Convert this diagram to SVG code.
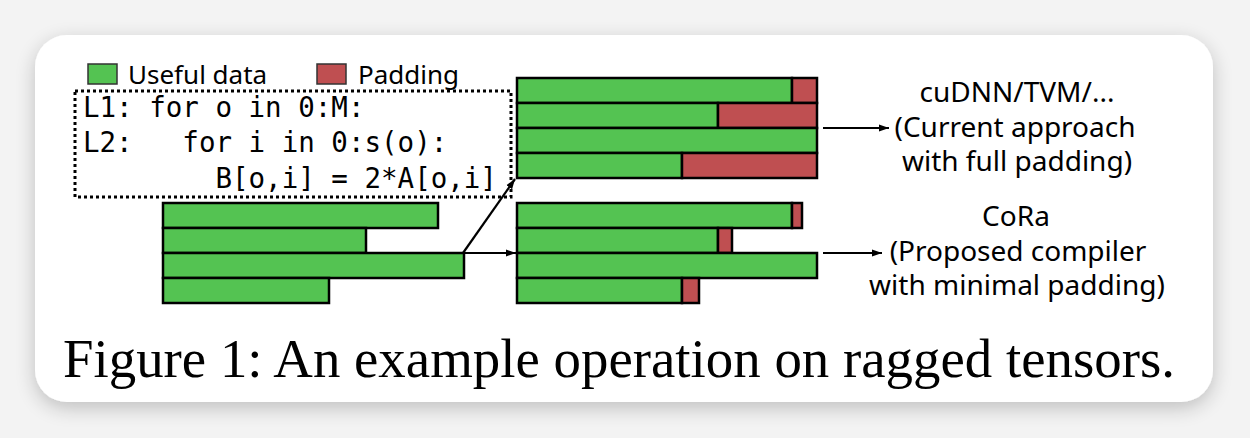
<svg xmlns="http://www.w3.org/2000/svg" width="1250" height="438" viewBox="0 0 1250 438">
<defs>
<filter id="shadow" x="-10%" y="-20%" width="120%" height="150%">
<feGaussianBlur in="SourceAlpha" stdDeviation="10"/>
<feOffset dx="0" dy="6" result="b"/>
<feComponentTransfer><feFuncA type="linear" slope="0.22"/></feComponentTransfer>
<feMerge><feMergeNode/><feMergeNode in="SourceGraphic"/></feMerge>
</filter>
<marker id="ah" viewBox="0 0 10 10" refX="10" refY="5" markerWidth="10" markerHeight="10" markerUnits="userSpaceOnUse" orient="auto">
<path d="M0,1.5 L10,5 L0,8.5 z" fill="#000"/>
</marker>
<style>
.g{fill:#54c352;stroke:#000;stroke-width:2.5}
.r{fill:#bf4f51;stroke:#000;stroke-width:2.5}
.lbl{font-family:"Noto Sans","Open Sans",sans-serif;font-size:26px;fill:#000}
.side{font-family:"Noto Sans","Open Sans",sans-serif;font-size:28px;fill:#000}
.code{font-family:"DejaVu Sans Mono",monospace;font-size:27.5px;fill:#000}
.cap{font-family:"Liberation Serif","Times New Roman",serif;font-size:55px;fill:#000}
.conn{stroke:#000;stroke-width:2.2;fill:none}
</style>
</defs>
<rect x="0" y="0" width="1250" height="438" fill="#f3f3f3"/>
<rect x="35" y="35" width="1178" height="367" rx="32" ry="32" fill="#ffffff" filter="url(#shadow)"/>

<g id="legend">
<rect x="88" y="64" width="29" height="20" fill="#54c352" stroke="#333" stroke-width="1.5"/>
<text class="lbl" x="128" y="84">Useful data</text>
<rect x="317" y="64" width="29" height="20" fill="#bf4f51" stroke="#333" stroke-width="1.5"/>
<text class="lbl" x="358" y="84">Padding</text>
</g>

<g id="code">
<rect x="75" y="91" width="436" height="106" fill="none" stroke="#000" stroke-width="3" stroke-dasharray="3 3"/>
<text class="code" x="83" y="117" xml:space="preserve">L1: for o in 0:M:</text>
<text class="code" x="83" y="152" xml:space="preserve">L2:   for i in 0:s(o):</text>
<text class="code" x="83" y="188" xml:space="preserve">        B[o,i] = 2*A[o,i]</text>
</g>

<g id="input">
<rect class="g" x="163" y="203" width="275" height="25"/>
<rect class="g" x="163" y="228" width="203" height="25"/>
<rect class="g" x="163" y="253" width="301" height="25"/>
<rect class="g" x="163" y="278" width="166" height="25"/>
</g>

<g id="fullpad">
<rect class="g" x="517" y="78" width="275" height="25"/>
<rect class="r" x="792" y="78" width="25" height="25"/>
<rect class="g" x="517" y="103" width="201" height="25"/>
<rect class="r" x="718" y="103" width="99" height="25"/>
<rect class="g" x="517" y="128" width="300" height="25"/>
<rect class="g" x="517" y="153" width="165" height="25"/>
<rect class="r" x="682" y="153" width="135" height="25"/>
</g>

<g id="minpad">
<rect class="g" x="517" y="203" width="275" height="25"/>
<rect class="r" x="792" y="203" width="10" height="25"/>
<rect class="g" x="517" y="228" width="201" height="25"/>
<rect class="r" x="718" y="228" width="14" height="25"/>
<rect class="g" x="517" y="253" width="300" height="25"/>
<rect class="g" x="517" y="278" width="165" height="25"/>
<rect class="r" x="682" y="278" width="17" height="25"/>
</g>

<g id="connectors">
<line class="conn" x1="463" y1="253" x2="515" y2="179" marker-end="url(#ah)"/>
<line class="conn" x1="463" y1="253" x2="516" y2="253" marker-end="url(#ah)"/>
<line class="conn" x1="823" y1="128" x2="889" y2="128" marker-end="url(#ah)"/>
<line class="conn" x1="823" y1="253" x2="882" y2="253" marker-end="url(#ah)"/>
</g>

<g id="label-current">
<text class="side" x="1017" y="102" text-anchor="middle">cuDNN/TVM/...</text>
<text class="side" x="1015" y="137" text-anchor="middle">(Current approach</text>
<text class="side" x="1017" y="171" text-anchor="middle">with full padding)</text>
</g>

<g id="label-cora">
<text class="side" x="1016" y="226" text-anchor="middle">CoRa</text>
<text class="side" x="1018" y="261" text-anchor="middle">(Proposed compiler</text>
<text class="side" x="1017" y="295" text-anchor="middle">with minimal padding)</text>
</g>

<g id="caption">
<text class="cap" x="63" y="377" textLength="1112" lengthAdjust="spacingAndGlyphs">Figure 1: An example operation on ragged tensors.</text>
</g>
</svg>
